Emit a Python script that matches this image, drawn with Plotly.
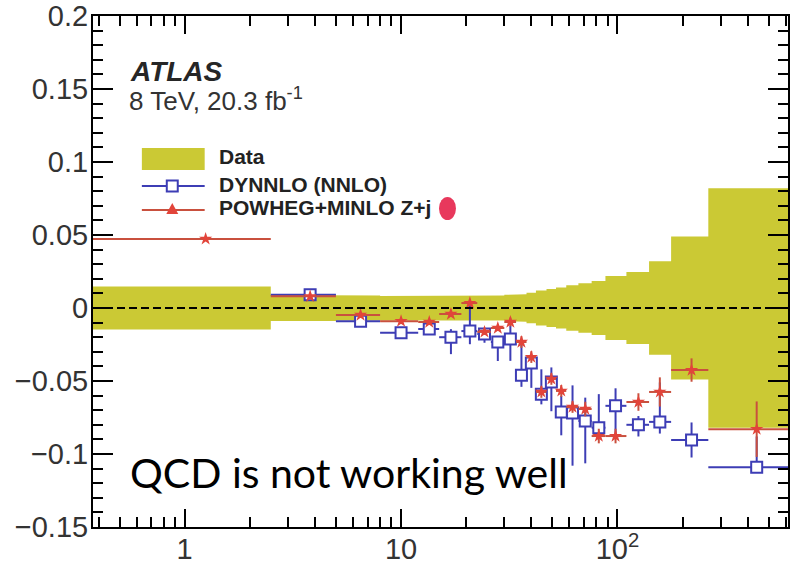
import math
import plotly.graph_objects as go

# Bin edges (GeV) and plotted bin centres
bin_lo = [0.0, 2.5, 5, 8, 12, 15, 19, 22.5, 26, 30, 34, 38, 42, 47, 52, 58, 66, 76, 88, 110, 140, 177, 263]
bin_hi = [2.5, 5, 8, 12, 15, 19, 22.5, 26, 30, 34, 38, 42, 47, 52, 58, 66, 76, 88, 110, 140, 177, 263, 800]
x_center = [1.25, 3.8, 6.5, 10, 13.5, 17, 20.8, 24.3, 28, 32, 36, 40, 44.5, 49.5, 55, 62, 71, 82, 98, 125, 157, 220, 440]

# Relative uncertainty of the measurement (band around zero)
data_err = [0.0147, 0.0089, 0.0085, 0.0082, 0.0080, 0.0080, 0.0080, 0.0082, 0.0085, 0.0090, 0.0095,
            0.0105, 0.0120, 0.0130, 0.0140, 0.0155, 0.0170, 0.0185, 0.0220, 0.0247, 0.0320, 0.0490, 0.0820]

# DYNNLO (NNLO) relative deviation with upper / lower uncertainties
dynnlo = [None, 0.009, -0.009, -0.017, -0.0144, -0.020, -0.0158, -0.0178, -0.0233, -0.0212, -0.046,
          -0.0377, -0.059, -0.0507, -0.0712, -0.072, -0.0774, -0.082, -0.067, -0.080, -0.078, -0.0904, -0.109]
dynnlo_up = [0, 0.002, 0.002, 0.002, 0.003, 0.0055, 0.018, 0.004, 0.004, 0.009, 0.025,
             0.004, 0.017, 0.010, 0.011, 0.019, 0.016, 0.023, 0.012, 0.006, 0.027, 0.012, 0.021]
dynnlo_down = [0, 0.002, 0.002, 0.002, 0.003, 0.0116, 0.009, 0.006, 0.013, 0.015, 0.008,
               0.017, 0.007, 0.020, 0.016, 0.036, 0.029, 0.006, 0.022, 0.008, 0.008, 0.012, 0.004]

# POWHEG+MINLO Z+j relative deviation
powheg = [0.0473, 0.008, -0.0048, -0.009, -0.0096, -0.0041, 0.0034, -0.0164, -0.0137, -0.0096, -0.0233,
          -0.0336, -0.0575, -0.0486, -0.0568, -0.0678, -0.0692, -0.0877, -0.0877, -0.0644, -0.0575, -0.0425, -0.083]
powheg_err = [0.001, 0.002, 0.002, 0.002, 0.002, 0.002, 0.002, 0.002, 0.002, 0.003, 0.004,
              0.004, 0.004, 0.004, 0.004, 0.004, 0.005, 0.005, 0.005, 0.006, 0.010, 0.008, 0.019]

y_tickvals = [-0.15, -0.1, -0.05, 0, 0.05, 0.1, 0.15, 0.2]
y_ticktext = ["\u22120.15", "\u22120.1", "\u22120.05", "0", "0.05", "0.1", "0.15", "0.2"]
x_tickvals = [1, 10, 100]
x_ticktext = ["1", "10", "10<sup>2</sup>"]
x_minor = [0.4, 0.5, 0.6, 0.7, 0.8, 0.9, 2, 3, 4, 5, 6, 7, 8, 9,
           20, 30, 40, 50, 60, 70, 80, 90, 200, 300, 400, 500, 600]

X_MIN, X_MAX = 0.377, 614.0
Y_MIN, Y_MAX = -0.15, 0.2

BAND = "#cbc934"
BLUE = "#3d3db5"
RED_LINE = "#c9503e"
RED_MARK = "#e2443a"

# Left edge of the first bin sits at zero; on a log axis start it just off-scale
lo_draw = [max(v, 0.3) for v in bin_lo]
hi_draw = list(bin_hi)

# Step-shaped band polygon
band_x, band_y = [], []
for lo, hi, e in zip(lo_draw, hi_draw, data_err):
    band_x += [lo, hi]
    band_y += [e, e]
for lo, hi, e in reversed(list(zip(lo_draw, hi_draw, data_err))):
    band_x += [hi, lo]
    band_y += [-e, -e]

fig = go.Figure()
fig.add_trace(go.Scatter(x=band_x, y=band_y, fill="toself", fillcolor=BAND,
                         mode="lines", line=dict(width=0), hoverinfo="skip",
                         name="Data", showlegend=False))

x_plus = [hi - c for c, hi in zip(x_center, hi_draw)]
x_minus = [c - lo for c, lo in zip(x_center, lo_draw)]

fig.add_trace(go.Scatter(
    x=x_center, y=dynnlo, mode="markers", name="DYNNLO (NNLO)", showlegend=False,
    marker=dict(symbol="square", size=11, color="white", line=dict(color=BLUE, width=2)),
    error_x=dict(type="data", symmetric=False, array=x_plus, arrayminus=x_minus,
                 color=BLUE, thickness=2, width=0),
    error_y=dict(type="data", symmetric=False, array=dynnlo_up, arrayminus=dynnlo_down,
                 color=BLUE, thickness=2, width=0),
))

fig.add_trace(go.Scatter(
    x=x_center, y=powheg, mode="markers", name="POWHEG+MINLO Z+j", showlegend=False,
    marker=dict(symbol="star", size=10, color=RED_MARK, line=dict(width=0)),
    error_x=dict(type="data", symmetric=False, array=x_plus, arrayminus=x_minus,
                 color=RED_LINE, thickness=2, width=0),
    error_y=dict(type="data", array=powheg_err, color=RED_LINE, thickness=2, width=0),
))

# Pixel -> paper helpers for the hand-placed legend and labels
L, R, T, B = 93, 790, 16, 527


def px(x):
    return (x - L) / (R - L)


def py(y):
    return (B - y) / (B - T)


shapes = [
    # dashed reference line at zero
    dict(type="line", xref="paper", yref="y", x0=0, x1=1, y0=0, y1=0,
         line=dict(color="black", width=2, dash="8px,4px"), layer="above"),
    # legend: Data swatch
    dict(type="rect", xref="paper", yref="paper", x0=px(142), x1=px(205), y0=py(170), y1=py(148),
         fillcolor=BAND, line=dict(width=0)),
    # legend: DYNNLO line + square
    dict(type="line", xref="paper", yref="paper", x0=px(142), x1=px(205), y0=py(186), y1=py(186),
         line=dict(color=BLUE, width=2)),
    dict(type="rect", xref="paper", yref="paper", x0=px(167), x1=px(178), y0=py(191.5), y1=py(180.5),
         fillcolor="white", line=dict(color=BLUE, width=2)),
    # legend: POWHEG line + marker
    dict(type="line", xref="paper", yref="paper", x0=px(142), x1=px(205), y0=py(210), y1=py(210),
         line=dict(color=RED_LINE, width=2)),
    dict(type="path", xref="paper", yref="paper",
         path=f"M {px(166.5)},{py(214)} L {px(178.5)},{py(214)} L {px(172.5)},{py(203)} Z",
         fillcolor=RED_MARK, line=dict(width=0)),
    # red dot after the POWHEG legend entry
    dict(type="circle", xref="paper", yref="paper", x0=px(440), x1=px(457), y0=py(220), y1=py(197),
         fillcolor="#e8385c", line=dict(width=0)),
]

annotations = [
    dict(text="<b><i>ATLAS</i></b>", x=px(128), y=py(71), xref="paper", yref="paper",
         xanchor="left", yanchor="middle", showarrow=False,
         font=dict(family="Liberation Sans", size=28, color="#262626")),
    dict(text="8 TeV, 20.3 fb<sup>-1</sup>", x=px(127), y=py(99), xref="paper", yref="paper",
         xanchor="left", yanchor="middle", showarrow=False,
         font=dict(family="Liberation Sans", size=26, color="#333333")),
    dict(text="<b>Data</b>", x=px(217), y=py(156), xref="paper", yref="paper",
         xanchor="left", yanchor="middle", showarrow=False,
         font=dict(family="Liberation Sans", size=21, color="#222222")),
    dict(text="<b>DYNNLO (NNLO)</b>", x=px(217), y=py(184), xref="paper", yref="paper",
         xanchor="left", yanchor="middle", showarrow=False,
         font=dict(family="Liberation Sans", size=21, color="#222222")),
    dict(text="<b>POWHEG+MINLO Z+j</b>", x=px(217), y=py(207), xref="paper", yref="paper",
         xanchor="left", yanchor="middle", showarrow=False,
         font=dict(family="Liberation Sans", size=21, color="#222222")),
    dict(text="QCD is not working well", x=px(128), y=py(472), xref="paper", yref="paper",
         xanchor="left", yanchor="middle", showarrow=False,
         font=dict(family="Lato", size=41, color="black")),
]

axis_common = dict(showline=True, linecolor="black", linewidth=2, mirror="ticks",
                   ticks="inside", tickwidth=2, tickcolor="black", showgrid=False, zeroline=False,
                   tickfont=dict(family="Liberation Sans", size=29, color="#333333"))

fig.update_layout(
    width=790, height=572,
    margin=dict(l=L, r=790 - R, t=T, b=572 - B, pad=0),
    paper_bgcolor="white", plot_bgcolor="white",
    showlegend=False,
    xaxis=dict(type="log", range=[math.log10(X_MIN), math.log10(X_MAX)],
               tickmode="array", tickvals=x_tickvals, ticktext=x_ticktext, ticklen=18,
               ticklabelstandoff=-5,
               minor=dict(tickmode="array", tickvals=x_minor, ticks="inside", ticklen=10,
                          tickwidth=2, tickcolor="black", showgrid=False),
               **axis_common),
    yaxis=dict(range=[Y_MIN, Y_MAX], tickmode="array", tickvals=y_tickvals, ticktext=y_ticktext,
               ticklen=20, ticklabelstandoff=-3,
               minor=dict(dtick=0.01, tick0=0, ticks="inside", ticklen=10,
                          tickwidth=2, tickcolor="black", showgrid=False),
               **axis_common),
    shapes=shapes,
    annotations=annotations,
)

fig.write_html("out.html")
